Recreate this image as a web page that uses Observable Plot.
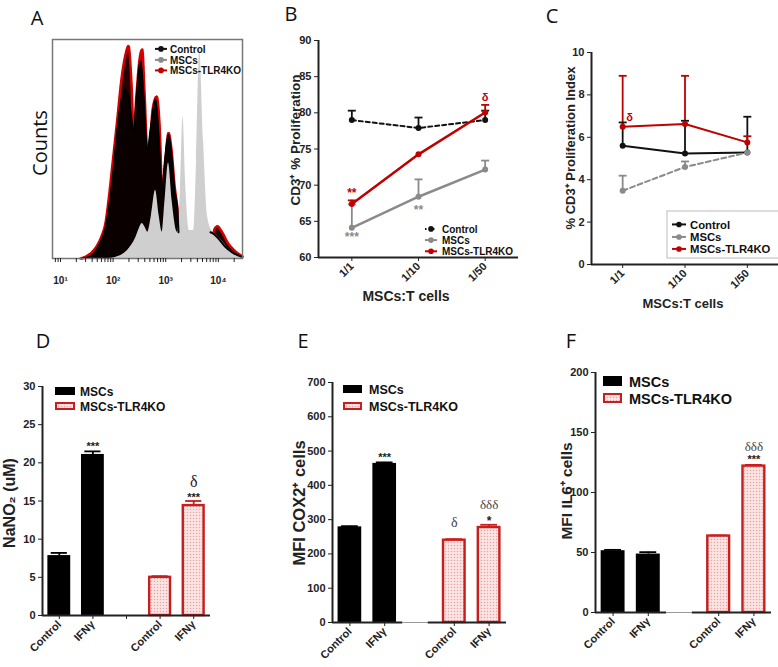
<!DOCTYPE html>
<html>
<head>
<meta charset="utf-8">
<script src="https://cdn.jsdelivr.net/npm/d3@7"></script>
<script src="https://cdn.jsdelivr.net/npm/@observablehq/plot@0.6"></script>
<style>
  body { margin: 0; background: #fff; }
  #root { position: relative; width: 778px; height: 667px; overflow: hidden; background: #fff; }
  #root svg { position: absolute; }
</style>
</head>
<body>
<div id="root"></div>
<script>
// ---------------- DATA ----------------
// Panel A: CFSE histograms (fluorescence intensity, relative counts)
const aIntensityTLR4KO = [24,31,40,50,60,72,82,97,121,144,172,196,224,246,278,318,358,397,447,497,563,674,764,859,954,1130,1290,1470,1670,1800,2180,2960,3800,5720,7400,8450,9560,11500,15400,21300,28800];
const aCountsTLR4KO    = [0,1,3,6,10,16.5,26.6,42.7,64.2,81.7,93,97,79.4,57.3,74.8,90.8,95.4,74.8,49.5,51.8,67.9,73.9,61,31.2,40.4,57.3,49.5,33.5,22.9,15,12,12,9,6,8.3,13.3,14.7,12.4,6.9,3.2,0.9];
const aIntensityControl = [26,37,50,60,72,85,102,121,144,172,196,224,246,278,332,378,447,515,641,730,859,970,1130,1290,1470,1670,1750,2300,4600,7100,8450,10000,13400,18400,28800];
const aCountsControl    = [0,1,4.6,8.3,13.8,24.3,40.4,58.7,72.5,77,73.4,63.3,56.9,72.5,90,74.8,48.6,58.7,72.5,56.4,31.2,45,56.4,47.2,31.2,22,12,null,null,12,11,9.2,5.5,2.8,0.7];
const aIntensityMSCs = [82,111,151,188,224,267,304,358,414,455,537,641,748,859,970,1130,1320,1670,1900,2130,2380,2830,3390,3860,4430,5240,6200,7500,9300,12000,15400,21300,28800];
const aCountsMSCs    = [0,0.5,1.8,3.7,6,9.2,12.8,16,13.8,12,19.7,31.2,19.7,12,26.6,43.6,26.6,12,31.2,64.7,35.8,12.8,12.8,45,95.4,54,19.7,12.8,10.6,7.8,4.6,2.3,0.5];
const aDecades = [10, 100, 1000, 10000];
const aDecadeLabels = ["10¹", "10²", "10³", "10⁴"];

// Panels B & C: MSCs:T cells ratios
const ratios = ["1/1", "1/10", "1/50"];
const seriesNames = ["Control", "MSCs", "MSCs-TLR4KO"];
const bControl = [79.0, 77.9, 79.0];   const bControlErr = [80.3, 79.35, 80.3];
const bMSCs    = [64.1, 68.4, 72.15];  const bMSCsErr    = [67.35, 70.8, 73.4];
const bTLR4KO  = [67.4, 74.26, 80.05]; const bTLR4KOErr  = [67.9, 74.26, 81.1];
const bAnnotSeries = ["MSCs-TLR4KO", "MSCs", "MSCs", "MSCs-TLR4KO"];
const bAnnotRatio  = [0, 1, 0, 2];
const bAnnotText   = ["**", "**", "***", "δ"];

const cControl = [5.6, 5.24, 5.28];  const cControlErr = [6.7, 6.78, 6.97];
const cMSCs    = [3.48, 4.6, 5.28];  const cMSCsErr    = [4.19, 4.86, 5.28];
const cTLR4KO  = [6.5, 6.63, 5.76];  const cTLR4KOErr  = [8.9, 8.9, 6.05];
const cAnnotSeries = ["MSCs-TLR4KO"]; const cAnnotRatio = [0]; const cAnnotText = ["δ"];

// Panels D, E, F: bars
const groups = ["MSCs", "MSCs-TLR4KO"];
const treatments = ["Control", "IFNγ"];
const slotLabels = ["Control", "IFNγ", "", "Control", "IFNγ"];
const dMSCs = [7.85, 21.1];  const dMSCsErr = [8.2, 21.5];
const dTLR4KO = [5.0, 14.4]; const dTLR4KOErr = [5.15, 15.0];
const dAnnotSlot = [1, 4, 4]; const dAnnotText = ["***", "***", "δ"];
const eMSCs = [279, 464];    const eMSCsErr = [281, 467];
const eTLR4KO = [240, 277];  const eTLR4KOErr = [243, 285];
const eAnnotSlot = [1, 3, 4, 4]; const eAnnotText = ["***", "δ", "δδδ", "*"];
const fMSCs = [51.5, 48.7];  const fMSCsErr = [52.2, 50.3];
const fTLR4KO = [63.7, 122]; const fTLR4KOErr = [64.2, 123];
const fAnnotSlot = [4, 4]; const fAnnotText = ["δδδ", "***"];

// ---------------- STYLE ----------------
const SANS = "'Liberation Sans', Arial, sans-serif";
const SERIF = "'Liberation Serif', 'Times New Roman', serif";
const RED = "#c00000", GRAY = "#8a8a8a", BLACK = "#111";
const colorOf = {"Control": BLACK, "MSCs": GRAY, "MSCs-TLR4KO": RED};
const root = document.getElementById("root");
function place(svg, left, top) { svg.style.left = left + "px"; svg.style.top = top + "px"; root.appendChild(svg); }
const plotStyle = {fontFamily: SANS, fontSize: "11px", fontWeight: "bold", color: "#222", background: "transparent", overflow: "visible"};
const capSymbol = {draw(ctx, size) { const r = Math.sqrt(size / Math.PI); ctx.moveTo(-r, 0); ctx.lineTo(r, 0); }};
function patternMark(id) {
  return () => {
    const defs = d3.create("svg:defs");
    const p = defs.append("pattern").attr("id", id).attr("patternUnits", "userSpaceOnUse").attr("width", 3).attr("height", 3);
    p.append("rect").attr("width", 3).attr("height", 3).attr("fill", "#fbe5e5");
    p.append("circle").attr("cx", 1.5).attr("cy", 1.5).attr("r", 0.75).attr("fill", "#e8a3a3");
    return defs.node();
  };
}

// ---------------- PANEL A ----------------
const toRows = (xs, ys) => xs.map((x, k) => ({x, y: ys[k]}));
const aRed = toRows(aIntensityTLR4KO, aCountsTLR4KO);
const aCtl = toRows(aIntensityControl, aCountsControl);
const aMsc = toRows(aIntensityMSCs, aCountsMSCs);
const aTicks = [];
for (const dec of [1, 10, 100, 1000, 10000]) for (let m = 1; m <= 9; m++) { const t = m * dec; if (t >= 8 && t <= 28000) aTicks.push(t); }
const plotA = Plot.plot({
  width: 260, height: 300, marginTop: 39, marginLeft: 52, marginRight: 18, marginBottom: 42,
  x: {type: "log", domain: [7.05, 28800]},
  y: {domain: [0, 100], axis: null},
  style: {...plotStyle, fontSize: "10px"},
  marks: [
    Plot.areaY(aRed, {x: "x", y: "y", fill: "#250202", curve: "monotone-x"}),
    Plot.lineY(aRed, {x: "x", y: "y", stroke: "#d40000", strokeWidth: 2.6, strokeDasharray: "1.2 1.1", curve: "monotone-x"}),
    Plot.areaY(aCtl, {x: "x", y: "y", fill: "#0b0000", curve: "monotone-x"}),
    Plot.areaY(aMsc, {x: "x", y: "y", fill: "#cfcfcf", curve: "monotone-x"}),
    Plot.lineY(aCtl, {x: "x", y: "y", stroke: "#000", strokeWidth: 2, curve: "monotone-x"}),
    Plot.frame({stroke: "#777", strokeWidth: 1.5}),
    Plot.axisX({ticks: aTicks, tickFormat: d => { const k = aDecades.indexOf(d); return k >= 0 ? aDecadeLabels[k] : ""; }, tickSize: 4, tickPadding: 14, label: null})
  ]
});
place(plotA, 0, 0);

// ---------------- PANELS B & C ----------------
function buildRows(valsList, errsList) {
  const rows = [];
  seriesNames.forEach((s, k) => valsList[k].forEach((v, i) => rows.push({series: s, i, v, err: errsList[k][i]})));
  return rows;
}
function linePanel(cfg) {
  const rows = buildRows(cfg.vals, cfg.errs);
  const of = s => rows.filter(r => r.series === s);
  const ann = cfg.annText.map((t, j) => {
    const r = rows.find(r => r.series === cfg.annSeries[j] && r.i === cfg.annRatio[j]);
    return {i: r.i, v: r.v, err: r.err, text: t, color: colorOf[r.series], k: j};
  });
  const marks = [
    Plot.ruleX([-0.5], {stroke: "#222", strokeWidth: 2}),
    Plot.ruleY([cfg.yDomain[0]], {stroke: "#222", strokeWidth: 2}),
    Plot.axisY({ticks: cfg.yTicks, tickSize: 4, tickPadding: 3, label: null}),
    Plot.axisX({ticks: [0, 1, 2], tickFormat: i => ratios[i], tickRotate: -45, tickSize: 4, tickPadding: 3, label: null})
  ];
  seriesNames.forEach(s => {
    marks.push(Plot.ruleX(of(s).filter(r => r.err > r.v), {x: "i", y1: "v", y2: "err", stroke: colorOf[s], strokeWidth: 1.8}));
  });
  seriesNames.forEach(s => {
    marks.push(Plot.line(of(s), {x: "i", y: "v", stroke: colorOf[s], strokeWidth: cfg.widths[s], strokeDasharray: cfg.dashes[s]}));
    marks.push(Plot.dot(of(s), {x: "i", y: "v", r: 3, fill: colorOf[s]}));
    marks.push(Plot.dot(of(s).filter(r => r.err > r.v), {x: "i", y: "err", symbol: capSymbol, r: 4, stroke: colorOf[s], strokeWidth: 1.8}));
  });
  ann.forEach(a => {
    const st = cfg.annStyle[a.k];
    marks.push(Plot.text([a], {x: "i", y: st.at, text: "text", fill: a.color, fontSize: st.size, dy: st.dy, dx: st.dx || 0}));
  });
  return Plot.plot({
    width: cfg.width, height: cfg.height, marginLeft: cfg.m[0], marginRight: cfg.m[1], marginTop: cfg.m[2], marginBottom: cfg.m[3],
    x: {domain: [-0.5, 2.5]}, y: {domain: cfg.yDomain},
    style: plotStyle, marks
  });
}
const plotB = linePanel({
  width: 265, height: 310, m: [63, 2, 40, 53],
  yDomain: [60, 90], yTicks: [60, 65, 70, 75, 80, 85, 90],
  vals: [bControl, bMSCs, bTLR4KO], errs: [bControlErr, bMSCsErr, bTLR4KOErr],
  widths: {"Control": 2, "MSCs": 2.5, "MSCs-TLR4KO": 2.5},
  dashes: {"Control": "4 3", "MSCs": null, "MSCs-TLR4KO": null},
  annSeries: bAnnotSeries, annRatio: bAnnotRatio, annText: bAnnotText,
  annStyle: [{at: "err", dy: -7, size: 12}, {at: "v", dy: 13, size: 12}, {at: "v", dy: 9, size: 12}, {at: "err", dy: -7.5, size: 11}]
});
place(plotB, 255, 0);
const plotC = linePanel({
  width: 263, height: 310, m: [76, 0, 52, 46],
  yDomain: [0, 10], yTicks: [0, 2, 4, 6, 8, 10],
  vals: [cControl, cMSCs, cTLR4KO], errs: [cControlErr, cMSCsErr, cTLR4KOErr],
  widths: {"Control": 2, "MSCs": 2, "MSCs-TLR4KO": 2},
  dashes: {"Control": null, "MSCs": "5 3", "MSCs-TLR4KO": null},
  annSeries: cAnnotSeries, annRatio: cAnnotRatio, annText: cAnnotText,
  annStyle: [{at: "v", dy: -9.5, dx: 7, size: 11}]
});
place(plotC, 515, 0);

// ---------------- PANELS D, E, F ----------------
function barPanel(cfg) {
  const rows = [];
  treatments.forEach((t, k) => {
    rows.push({slot: k, group: groups[0], v: cfg.msc[k], err: cfg.mscErr[k]});
    rows.push({slot: k + 3, group: groups[1], v: cfg.tlr[k], err: cfg.tlrErr[k]});
  });
  const msc = rows.filter(r => r.group === groups[0]);
  const tlr = rows.filter(r => r.group === groups[1]);
  const hw = 0.34, cw = 0.24;
  const marks = [
    patternMark(cfg.pid),
    Plot.ruleX(msc, {x: "slot", y1: "v", y2: "err", stroke: "#000", strokeWidth: 1.8}),
    Plot.ruleY(msc, {y: "err", x1: d => d.slot - cw, x2: d => d.slot + cw, stroke: "#000", strokeWidth: 1.8}),
    Plot.ruleX(tlr, {x: "slot", y1: "v", y2: "err", stroke: "#c81e1e", strokeWidth: 1.8}),
    Plot.ruleY(tlr, {y: "err", x1: d => d.slot - cw, x2: d => d.slot + cw, stroke: "#c81e1e", strokeWidth: 1.8}),
    Plot.rect(msc, {x1: d => d.slot - hw, x2: d => d.slot + hw, y1: 0, y2: "v", fill: "#000"}),
    Plot.rect(tlr, {x1: d => d.slot - hw + 0.03, x2: d => d.slot + hw - 0.03, y1: 0, y2: "v", fill: `url(#${cfg.pid})`, stroke: "#c81e1e", strokeWidth: 2.4}),
    Plot.ruleX([-0.5], {stroke: "#222", strokeWidth: 2}),
    Plot.ruleY(cfg.baseline, {y: 0, x1: "a", x2: "b", stroke: "c", strokeWidth: "w"}),
    Plot.axisY({ticks: cfg.yTicks, tickSize: 4, tickPadding: 3, label: null}),
    Plot.axisX({ticks: cfg.xTicks, tickFormat: i => slotLabels[i], tickRotate: -45, tickSize: 4, tickPadding: 3, label: null})
  ];
  cfg.annText.forEach((t, j) => {
    const r = rows.find(r => r.slot === cfg.annSlot[j]);
    const st = cfg.annStyle[j];
    const serif = t.includes("δ");
    marks.push(Plot.text([{slot: r.slot, err: r.err, text: t}], {x: "slot", y: "err", text: "text", dy: st.dy, fontSize: st.size,
      fontFamily: serif ? SERIF : SANS, fontWeight: serif ? "normal" : "bold", fill: st.color || "#222"}));
  });
  return Plot.plot({
    width: cfg.width, height: cfg.height, marginLeft: cfg.m[0], marginRight: cfg.m[1], marginTop: cfg.m[2], marginBottom: cfg.m[3],
    x: {domain: [-0.5, 4.5]}, y: {domain: cfg.yDomain},
    color: {type: "identity"},
    style: plotStyle, marks
  });
}
const solidBase = [{a: -0.5, b: 4.5, c: "#222", w: 2}];
const splitBase = [{a: -0.5, b: 1.52, c: "#222", w: 2}, {a: 1.52, b: 2.25, c: "#999", w: 1}, {a: 2.25, b: 4.5, c: "#222", w: 2}];
const plotD = barPanel({
  pid: "dotsD", width: 260, height: 357, m: [42, 50, 76, 52],
  yDomain: [0, 30], yTicks: [0, 5, 10, 15, 20, 25, 30], xTicks: [0, 1, 2, 3, 4], baseline: solidBase,
  msc: dMSCs, mscErr: dMSCsErr, tlr: dTLR4KO, tlrErr: dTLR4KOErr,
  annSlot: dAnnotSlot, annText: dAnnotText,
  annStyle: [{dy: -5, size: 11}, {dy: -3.6, size: 11}, {dy: -19, size: 16}]
});
place(plotD, 0, 310);
const plotE = barPanel({
  pid: "dotsE", width: 265, height: 357, m: [77, 14, 72, 45],
  yDomain: [0, 700], yTicks: [0, 100, 200, 300, 400, 500, 600, 700], xTicks: [0, 1, 3, 4], baseline: splitBase,
  msc: eMSCs, mscErr: eMSCsErr, tlr: eTLR4KO, tlrErr: eTLR4KOErr,
  annSlot: eAnnotSlot, annText: eAnnotText,
  annStyle: [{dy: -5, size: 11}, {dy: -16.7, size: 14, color: "#444"}, {dy: -19.8, size: 13, color: "#444"}, {dy: -3.4, size: 12}]
});
place(plotE, 255, 310);
const plotF = barPanel({
  pid: "dotsF", width: 263, height: 357, m: [80, 7, 62, 55],
  yDomain: [0, 200], yTicks: [0, 50, 100, 150, 200], xTicks: [0, 1, 3, 4], baseline: splitBase,
  msc: fMSCs, mscErr: fMSCsErr, tlr: fTLR4KO, tlrErr: fTLR4KOErr,
  annSlot: fAnnotSlot, annText: fAnnotText,
  annStyle: [{dy: -18.5, size: 13, color: "#444"}, {dy: -5, size: 11}]
});
place(plotF, 515, 310);

// ---------------- OVERLAY: panel letters, axis titles, legends ----------------
const ov = d3.select(root).append("svg").attr("width", 778).attr("height", 667)
  .style("left", "0px").style("top", "0px").style("pointer-events", "none");
const odefs = ov.append("defs");
const op = odefs.append("pattern").attr("id", "dotsLeg").attr("patternUnits", "userSpaceOnUse").attr("width", 3).attr("height", 3);
op.append("rect").attr("width", 3).attr("height", 3).attr("fill", "#fbe5e5");
op.append("circle").attr("cx", 1.5).attr("cy", 1.5).attr("r", 0.75).attr("fill", "#e8a3a3");

function txt(x, y, s, o = {}) {
  const t = ov.append("text").attr("x", x).attr("y", y).text(s)
    .attr("font-family", o.family || SANS).attr("font-size", o.size || 12)
    .attr("font-weight", o.weight || "bold").attr("fill", o.fill || "#222")
    .attr("text-anchor", o.anchor || "start");
  if (o.rotate) t.attr("transform", `rotate(${o.rotate},${x},${y})`);
  return t;
}
// panel letters
const LET = {family: "'Open Sans', 'Liberation Sans', sans-serif", size: 20, weight: "normal", fill: "#111", anchor: "middle"};
[["A", 37, 25], ["B", 291, 21], ["C", 552, 23], ["D", 43, 348], ["E", 303, 348], ["F", 571, 348]].forEach(([s, x, y]) => txt(x, y, s, LET));

// axis titles
txt(47, 143, "Counts", {family: "'Open Sans', 'Liberation Sans', sans-serif", size: 20, weight: "normal", fill: "#111", anchor: "middle", rotate: -90});
txt(300, 140, "CD3⁺ % Proliferation", {size: 13.5, anchor: "middle", rotate: -90});
txt(406, 301, "MSCs:T cells", {size: 14, anchor: "middle"});
txt(575, 148, "% CD3⁺ Proliferation Index", {size: 13, anchor: "middle", rotate: -90});
txt(683, 308, "MSCs:T cells", {size: 13, anchor: "middle"});
txt(15, 503, "NaNO₂ (uM)", {size: 16, anchor: "middle", rotate: -90});
txt(305, 503, "MFI COX2⁺ cells", {size: 16.5, anchor: "middle", rotate: -90});
txt(572, 491, "MFI IL6⁺ cells", {size: 15.5, anchor: "middle", rotate: -90});

// line legends (A, B, C)
function lineLegend(x0, x1, tx, baselines, size, dashes, box) {
  if (box) ov.append("rect").attr("x", box[0]).attr("y", box[1]).attr("width", box[2]).attr("height", box[3]).attr("fill", "#fff").attr("stroke", "#bbb").attr("stroke-width", 1);
  seriesNames.forEach((s, k) => {
    const yc = baselines[k] - size * 0.36;
    ov.append("line").attr("x1", x0).attr("x2", x1).attr("y1", yc).attr("y2", yc)
      .attr("stroke", colorOf[s]).attr("stroke-width", 2).attr("stroke-dasharray", dashes[k]);
    ov.append("circle").attr("cx", (x0 + x1) / 2).attr("cy", yc).attr("r", 2.8).attr("fill", colorOf[s]);
    txt(tx, baselines[k], s, {size, fill: "#111"});
  });
}
lineLegend(155, 167, 170, [52.5, 63.5, 74], 10, [null, null, null]);
lineLegend(425, 437, 442, [232.5, 243.7, 254.9], 10, ["1.5 2.5", null, null]);
lineLegend(672, 686, 690, [228.5, 241, 253], 11.3, [null, null, null], [667, 211, 115, 47]);

// bar legends (D, E, F)
function barLegend(sx, sw, sh, tops, tx, baselines, size) {
  ov.append("rect").attr("x", sx).attr("y", tops[0]).attr("width", sw).attr("height", sh).attr("fill", "#000");
  ov.append("rect").attr("x", sx + 1).attr("y", tops[1] + 1).attr("width", sw - 2).attr("height", sh - 2)
    .attr("fill", "url(#dotsLeg)").attr("stroke", "#c81e1e").attr("stroke-width", 2);
  txt(tx, baselines[0], groups[0], {size, fill: "#111"});
  txt(tx, baselines[1], groups[1], {size, fill: "#111"});
}
barLegend(55, 20, 8, [387, 402], 80, [396, 410.5], 12);
barLegend(343, 19, 8, [385, 402], 369, [394, 411], 12.5);
barLegend(603, 19, 10, [376, 393], 629, [387, 403.5], 14.5);
</script>
</body>
</html>
